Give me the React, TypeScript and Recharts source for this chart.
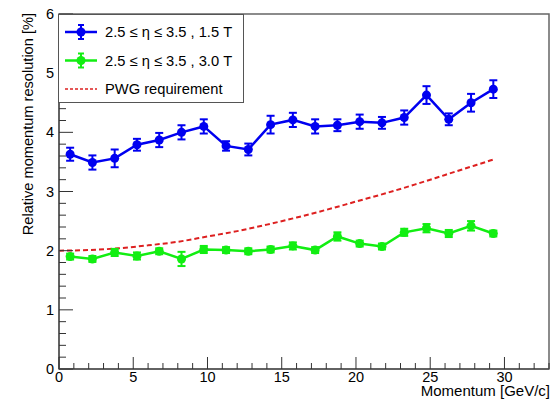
import React from "react";
import { ComposedChart, Line, XAxis, YAxis, ErrorBar, ReferenceArea } from "recharts";

// bin centres [GeV/c]
const momentum = [
  0.75, 2.25, 3.75, 5.25, 6.75, 8.25, 9.75, 11.25, 12.75, 14.25,
  15.75, 17.25, 18.75, 20.25, 21.75, 23.25, 24.75, 26.25, 27.75, 29.25,
];

// 1.5 T
const res15 = [
  3.63, 3.49, 3.56, 3.79, 3.87, 4.0, 4.1, 3.77, 3.71, 4.13,
  4.21, 4.1, 4.12, 4.18, 4.16, 4.25, 4.63, 4.22, 4.5, 4.73,
];
const err15 = [
  0.11, 0.12, 0.15, 0.1, 0.12, 0.12, 0.12, 0.08, 0.1, 0.15,
  0.12, 0.12, 0.1, 0.12, 0.1, 0.12, 0.15, 0.1, 0.15, 0.15,
];

// 3.0 T
const res30 = [
  1.9, 1.86, 1.97, 1.91, 1.99, 1.86, 2.02, 2.01, 1.99, 2.02,
  2.08, 2.01, 2.24, 2.12, 2.07, 2.31, 2.38, 2.29, 2.42, 2.29,
];
const err30 = [
  0.05, 0.05, 0.06, 0.06, 0.05, 0.12, 0.06, 0.05, 0.05, 0.05,
  0.06, 0.05, 0.07, 0.05, 0.05, 0.06, 0.07, 0.06, 0.08, 0.05,
];

// PWG requirement
const pwgMomentum = [0, 2, 4, 6, 8, 10, 12, 14, 16, 18, 20, 22, 24, 26, 28, 29.25];
const pwgRes = [2.0, 2.01, 2.04, 2.09, 2.15, 2.24, 2.33, 2.44, 2.56, 2.69, 2.83, 2.97, 3.12, 3.28, 3.44, 3.54];

const legendLabels = ["2.5 \u2264 \u03b7 \u2264 3.5 , 1.5 T", "2.5 \u2264 \u03b7 \u2264 3.5 , 3.0 T", "PWG requirement"];

const xMajor = [0, 5, 10, 15, 20, 25, 30];
const xTicks = [
  0, 1, 2, 3, 4, 5, 6, 7, 8, 9, 10, 11, 12, 13, 14, 15, 16,
  17, 18, 19, 20, 21, 22, 23, 24, 25, 26, 27, 28, 29, 30, 31, 32, 33,
];
const yMajor = [0, 1, 2, 3, 4, 5, 6];
const yTicks = Array.from({ length: 31 }, (_, i) => Math.round(i * 2) / 10);

const BLUE = "#0000f0";
const GREEN = "#12ee12";
const RED = "#dd2020";
const FONT = "'Liberation Sans', Arial, Helvetica, sans-serif";

const blueData = momentum.map((x, i) => ({ x, y: res15[i], err: err15[i] }));
const greenData = momentum.map((x, i) => ({ x, y: res30[i], err: err30[i] }));
const pwgData = pwgMomentum.map((x, i) => ({ x, y: pwgRes[i] }));

function XTick(props: any) {
  const { x, y, payload } = props;
  const major = xMajor.includes(payload.value);
  return (
    <g>
      <line x1={x} x2={x} y1={y} y2={y - (major ? 12 : 6)} stroke="#333" strokeWidth={1} />
      {major && (
        <text x={x} y={y + 13} textAnchor="middle" fontSize={14.5} fontFamily={FONT} fill="#000">
          {payload.value}
        </text>
      )}
    </g>
  );
}

function YTick(props: any) {
  const { x, y, payload } = props;
  const major = yMajor.includes(payload.value);
  return (
    <g>
      <line x1={x} x2={x + (major ? 14 : 7)} y1={y} y2={y} stroke="#333" strokeWidth={1} />
      {major && (
        <text x={x - 5} y={y + 5} textAnchor="end" fontSize={14.5} fontFamily={FONT} fill="#000">
          {payload.value}
        </text>
      )}
    </g>
  );
}

function LegendBox() {
  const rows = [
    { color: BLUE, kind: "marker" },
    { color: GREEN, kind: "marker" },
    { color: RED, kind: "dash" },
  ];
  return (
    <svg
      width={186}
      height={89}
      style={{ position: "absolute", left: 58, top: 14, background: "#fff" }}
    >
      <rect x={0.5} y={0.5} width={185} height={88} fill="#fff" stroke="#555" strokeWidth={1} />
      {rows.map((r, i) => {
        const cy = 18 + i * 28.5;
        return (
          <g key={i}>
            {r.kind === "marker" ? (
              <g>
                <line x1={7} x2={39} y1={cy} y2={cy} stroke={r.color} strokeWidth={2.5} />
                <line x1={23} x2={23} y1={cy - 7} y2={cy + 7} stroke={r.color} strokeWidth={2} />
                <line x1={20} x2={26} y1={cy - 7} y2={cy - 7} stroke={r.color} strokeWidth={2} />
                <line x1={20} x2={26} y1={cy + 7} y2={cy + 7} stroke={r.color} strokeWidth={2} />
                <circle cx={23} cy={cy} r={4.5} fill={r.color} />
              </g>
            ) : (
              <line x1={7} x2={39} y1={cy} y2={cy} stroke={r.color} strokeWidth={1.5} strokeDasharray="3 2" />
            )}
            <text x={47} y={cy + 5} fontSize={14.7} fontFamily={FONT} fill="#000">
              {legendLabels[i]}
            </text>
          </g>
        );
      })}
    </svg>
  );
}

export default function App() {
  return (
    <div style={{ position: "absolute", left: 0, top: 0, width: 558, height: 399, background: "#fff" }}>
      <ComposedChart width={558} height={399} margin={{ top: 14, right: 9, left: 0, bottom: 0 }}>
        <ReferenceArea x1={0} x2={33} y1={0} y2={6} fill="none" stroke="#666" strokeWidth={1.5} />
        <XAxis
          type="number"
          dataKey="x"
          domain={[0, 33]}
          ticks={xTicks}
          interval={0}
          tickSize={0}
          tickMargin={0}
          tickLine={false}
          tick={<XTick />}
          height={30}
          axisLine={{ stroke: "#555", strokeWidth: 1.5 }}
          allowDataOverflow
        />
        <YAxis
          type="number"
          domain={[0, 6]}
          ticks={yTicks}
          interval={0}
          tickSize={0}
          tickMargin={0}
          tickLine={false}
          tick={<YTick />}
          width={59}
          axisLine={{ stroke: "#555", strokeWidth: 1.5 }}
          allowDataOverflow
          label={{
            content: () => (
              <text
                transform="translate(33, 13) rotate(-90)"
                textAnchor="end"
                fontSize={14.6}
                fontFamily={FONT}
                fill="#000"
              >
                Relative momentum resolution [%]
              </text>
            ),
          }}
        />
        <Line
          data={pwgData}
          dataKey="y"
          type="monotone"
          stroke={RED}
          strokeWidth={2}
          strokeDasharray="5 3"
          dot={false}
          activeDot={false}
          isAnimationActive={false}
        />
        <Line
          data={greenData}
          dataKey="y"
          type="linear"
          stroke={GREEN}
          strokeWidth={2.5}
          dot={{ r: 4.5, fill: GREEN, stroke: GREEN, strokeWidth: 0 }}
          activeDot={false}
          isAnimationActive={false}
        >
          <ErrorBar dataKey="err" direction="y" width={4} stroke={GREEN} strokeWidth={2} />
        </Line>
        <Line
          data={blueData}
          dataKey="y"
          type="linear"
          stroke={BLUE}
          strokeWidth={2.5}
          dot={{ r: 4.5, fill: BLUE, stroke: BLUE, strokeWidth: 0 }}
          activeDot={false}
          isAnimationActive={false}
        >
          <ErrorBar dataKey="err" direction="y" width={4} stroke={BLUE} strokeWidth={2} />
        </Line>
      </ComposedChart>
      <svg width={558} height={399} style={{ position: "absolute", left: 0, top: 0, pointerEvents: "none" }}>
        <text x={550} y={396} textAnchor="end" fontSize={15} fontFamily={FONT} fill="#000">
          Momentum [GeV/c]
        </text>
      </svg>
      <LegendBox />
    </div>
  );
}
